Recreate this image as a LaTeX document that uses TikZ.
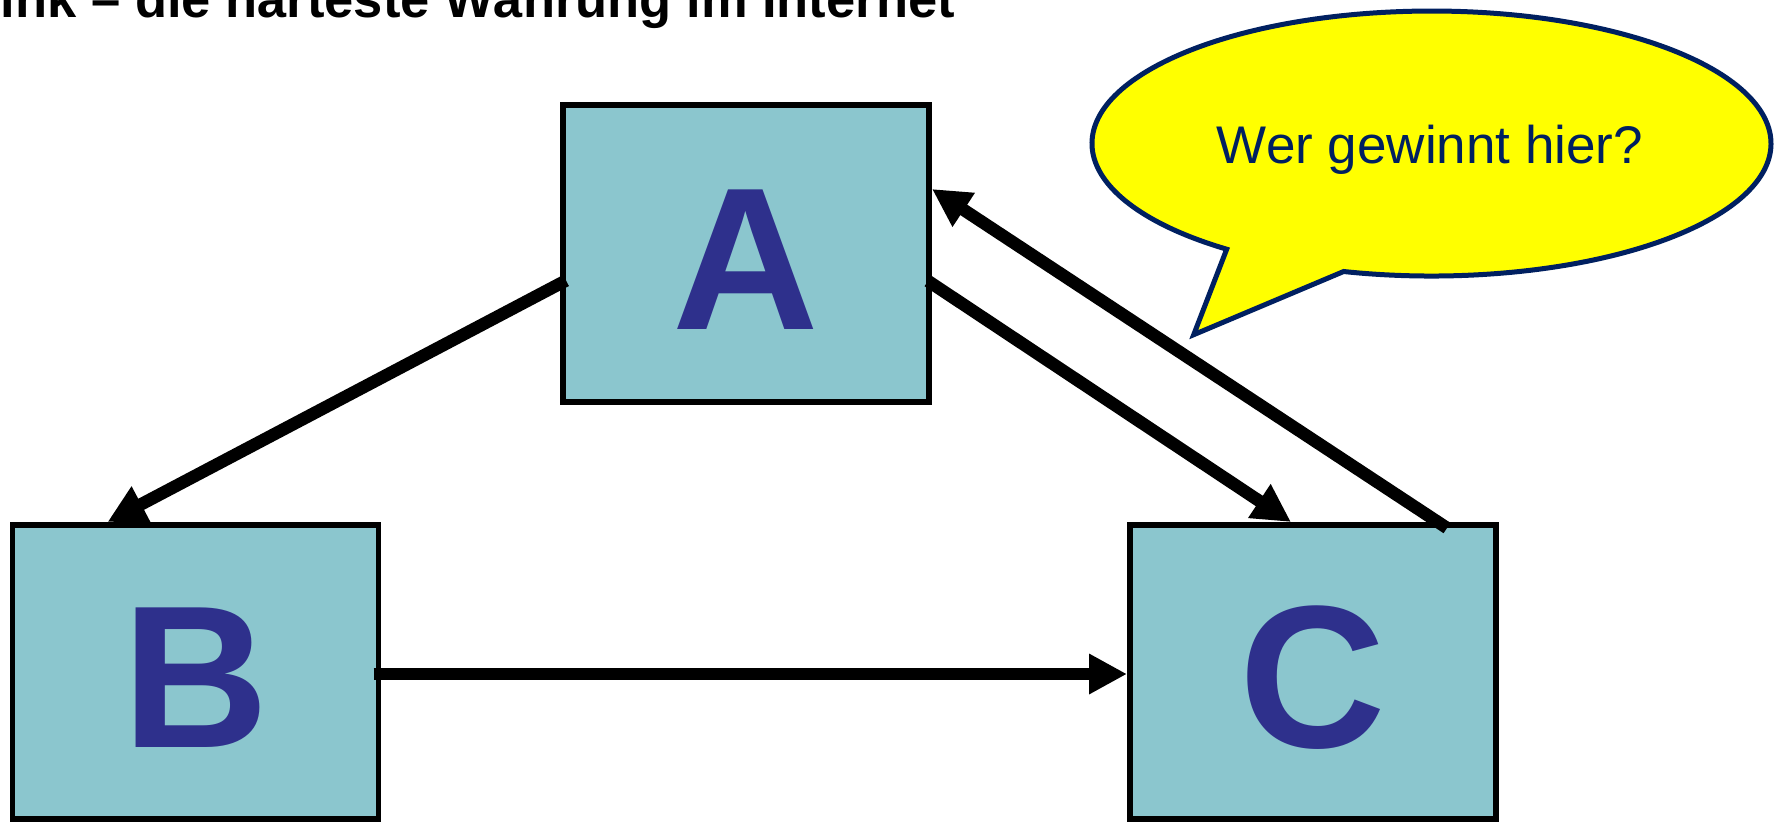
\documentclass[tikz,border=0pt]{standalone}
\usepackage{fontspec}
\setmainfont{Liberation Sans}
\usetikzlibrary{arrows.meta}
\definecolor{boxfill}{RGB}{139,198,206}
\definecolor{lettercol}{RGB}{46,48,140}
\definecolor{navy}{RGB}{0,32,96}
\definecolor{bubblefill}{RGB}{255,255,0}
\begin{document}
\begin{tikzpicture}[x=1pt,y=1pt,
  box/.style={draw=black, line width=5.5pt, fill=boxfill, inner sep=0pt, outer sep=0pt,
    minimum width=366pt, text=lettercol, font=\fontsize{203}{210}\selectfont\bfseries,
    text height=151pt, text depth=0pt},
  link/.style={line width=12.5pt, -{Triangle[length=38pt,width=38pt]}},
  bubble/.style={draw=navy, line width=5pt, fill=bubblefill, line join=miter}]
\useasboundingbox (0,0) rectangle (1779,-822);
\clip (0,0) rectangle (1779,-822);
\fill[white] (0,0) rectangle (1779,-822);
% title
\node[anchor=base east, inner sep=0pt, font=\fontsize{52.5}{60}\selectfont\bfseries] (title) at (955,-17) {Link – die härteste Währung im Internet};
% boxes
\node[box, minimum height=297pt] (A) at (746,-253.5) {A};
\node[box, minimum height=294pt] (B) at (195.5,-672) {B};
\node[box, minimum height=294pt] (C) at (1313,-672) {C};
% connectors
\draw[link] ([shift={(3,-27)}]A.west) -- ([shift={(-88,3)}]B.north);
\draw[link] ([shift={(-1,-27.5)}]A.east) -- ([shift={(-22,3)}]C.north);
\draw[link] ([shift={(134,-3)}]C.north) -- ([shift={(3,64.5)}]A.east);
\draw[link] ([shift={(-5,-2)}]B.east) -- ([shift={(-3,-2)}]C.west);
% speech bubble
\draw[bubble] (1193.7,-334.7) -- (1226.7,-249.2)
  arc[start angle=232.9, end angle=-105, x radius=339.5, y radius=132.5] -- cycle;
\node[anchor=base, inner sep=0pt, text=navy, font=\fontsize{53}{60}\selectfont] (q) at (1430,-163) {Wer gewinnt hier?};
\end{tikzpicture}
\end{document}
